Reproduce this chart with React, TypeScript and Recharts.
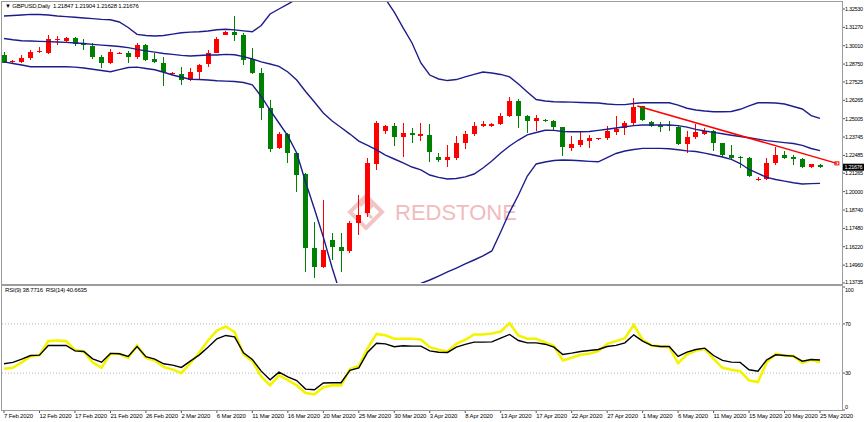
import React from "react";
import { ComposedChart, Bar, Line, XAxis, YAxis, ReferenceLine, ReferenceDot } from "recharts";

const FONT = '"Liberation Sans", Arial, sans-serif';
const BULL = "#ff0000";
const BEAR = "#008000";
const BAND = "#1d1d8c";
const FRAME = "#9c9c9c";

// GBPUSD daily bars, 7 Feb - 25 May 2020 (broker feed with Sunday bars)
const opens = [
  1.2937, 1.2889, 1.2889, 1.2915, 1.2957, 1.2953, 1.3042, 1.3033, 1.3052, 1.3022,
  1.3001, 1.2926, 1.2885, 1.2944, 1.2953, 1.2922, 1.3006, 1.2908, 1.2885, 1.2807,
  1.2807, 1.2766, 1.2823, 1.2874, 1.2953, 1.3077, 1.3095, 1.3075, 1.2908, 1.2816,
  1.2572, 1.2299, 1.2396, 1.2264, 1.2121, 1.1611, 1.1485, 1.1668, 1.1618, 1.1595,
  1.1787, 1.1852, 1.219, 1.2418, 1.245, 1.2373, 1.2404, 1.2384, 1.2389, 1.224,
  1.2217, 1.223, 1.2337, 1.2396, 1.2453, 1.245, 1.2462, 1.2519, 1.2624, 1.2519,
  1.2486, 1.2491, 1.2486, 1.2441, 1.2299, 1.232, 1.235, 1.2359, 1.2366, 1.2412,
  1.2434, 1.2473, 1.2585, 1.248, 1.2457, 1.2457, 1.2445, 1.2325, 1.2373, 1.2396,
  1.2418, 1.2332, 1.2253, 1.224, 1.2234, 1.2085, 1.2085, 1.2195, 1.2253, 1.2236,
  1.2222, 1.2167, 1.21847,
];
const highs = [
  1.2956, 1.29, 1.2937, 1.2972, 1.2992, 1.3075, 1.3068, 1.3059, 1.3059, 1.3045,
  1.3022, 1.2937, 1.2977, 1.2958, 1.2967, 1.3022, 1.3013, 1.2953, 1.2922, 1.2821,
  1.2857, 1.2846, 1.2876, 1.2972, 1.3059, 1.3102, 1.3205, 1.3086, 1.2984, 1.2846,
  1.2629, 1.2411, 1.2404, 1.2274, 1.2126, 1.1794, 1.1943, 1.1714, 1.1714, 1.1801,
  1.1977, 1.2229, 1.2487, 1.2457, 1.247, 1.2473, 1.2435, 1.2473, 1.2462, 1.2263,
  1.232, 1.2383, 1.2418, 1.248, 1.2487, 1.2473, 1.2537, 1.2648, 1.2634, 1.2526,
  1.2526, 1.25, 1.2491, 1.2445, 1.2383, 1.2411, 1.2389, 1.237, 1.245, 1.2519,
  1.2487, 1.264, 1.259, 1.2484, 1.248, 1.2484, 1.245, 1.2418, 1.2464, 1.2435,
  1.2423, 1.2336, 1.232, 1.2246, 1.224, 1.2098, 1.2229, 1.2304, 1.2281, 1.2253,
  1.2229, 1.2192, 1.21904,
];
const lows = [
  1.288, 1.2882, 1.2882, 1.29, 1.2954, 1.2944, 1.3006, 1.3029, 1.2999, 1.2972,
  1.2912, 1.2846, 1.2876, 1.2941, 1.2885, 1.2912, 1.2894, 1.288, 1.2725, 1.28,
  1.2732, 1.2762, 1.2766, 1.2857, 1.2949, 1.3073, 1.3036, 1.2869, 1.2807, 1.2492,
  1.2274, 1.2293, 1.2199, 1.2, 1.1451, 1.1406, 1.1474, 1.1531, 1.1451, 1.1581,
  1.1703, 1.1828, 1.2149, 1.2396, 1.2315, 1.224, 1.2332, 1.235, 1.2205, 1.2205,
  1.2167, 1.2217, 1.2291, 1.2383, 1.2445, 1.2441, 1.2455, 1.2514, 1.2439, 1.2404,
  1.2418, 1.2478, 1.2418, 1.2246, 1.2281, 1.2304, 1.2299, 1.2354, 1.2354, 1.2389,
  1.2389, 1.2457, 1.2486, 1.2445, 1.2411, 1.2418, 1.232, 1.2263, 1.2359, 1.2389,
  1.2281, 1.224, 1.2217, 1.216, 1.21, 1.2075, 1.208, 1.2185, 1.2222, 1.2185,
  1.2162, 1.2164, 1.21628,
];
const closes = [
  1.2884, 1.2893, 1.2919, 1.2956, 1.2962, 1.3045, 1.3049, 1.3052, 1.3011, 1.3004,
  1.2922, 1.288, 1.296, 1.2953, 1.2922, 1.3006, 1.2903, 1.2887, 1.2823, 1.2814,
  1.2766, 1.2823, 1.2869, 1.2953, 1.3045, 1.3095, 1.3077, 1.2903, 1.2816, 1.2572,
  1.2293, 1.2396, 1.2264, 1.2114, 1.1611, 1.1485, 1.16, 1.1618, 1.1595, 1.1787,
  1.184, 1.2194, 1.2473, 1.245, 1.2373, 1.2404, 1.2387, 1.2394, 1.2274, 1.2217,
  1.2236, 1.2337, 1.2396, 1.2451, 1.2464, 1.2462, 1.2519, 1.2624, 1.2519, 1.2486,
  1.2507, 1.2488, 1.2441, 1.2304, 1.2325, 1.2354, 1.2366, 1.2366, 1.2418, 1.243,
  1.2473, 1.258, 1.2491, 1.2453, 1.2445, 1.245, 1.2325, 1.2373, 1.2411, 1.2418,
  1.2332, 1.2253, 1.2234, 1.2234, 1.2104, 1.2089, 1.2199, 1.2253, 1.2234, 1.2222,
  1.2167, 1.2189, 1.21676,
];

// Bollinger bands
const bbUpper = [
  1.3205, 1.3208, 1.3212, 1.3216, 1.3215, 1.3212, 1.3205, 1.3201, 1.3196, 1.3191,
  1.3187, 1.3182, 1.3179, 1.3164, 1.3126, 1.3079, 1.3071, 1.3068, 1.3071, 1.3081,
  1.309, 1.3094, 1.3097, 1.3102, 1.3111, 1.3114, 1.311, 1.3103, 1.3097, 1.314,
  1.3219, 1.3253, 1.3286, 1.3322, 1.3363, 1.3404, 1.3438, 1.3466, 1.3479, 1.3479,
  1.3466, 1.3431, 1.3376, 1.3322, 1.3232, 1.3123, 1.302, 1.2883, 1.28, 1.2773,
  1.2762, 1.2769, 1.2787, 1.2804, 1.2821, 1.2814, 1.2804, 1.2787, 1.2738, 1.2684,
  1.2632, 1.2622, 1.2617, 1.2615, 1.2614, 1.2612, 1.261, 1.2608, 1.2601, 1.2597,
  1.2597, 1.2605, 1.261, 1.261, 1.261, 1.261, 1.2594, 1.2572, 1.256, 1.2553,
  1.2548, 1.2548, 1.255, 1.2565, 1.2588, 1.261, 1.261, 1.2608, 1.2601, 1.2584,
  1.2567, 1.2522, 1.2503,
];
const bbMiddle = [
  1.3051, 1.3042, 1.3035, 1.3033, 1.3031, 1.3029, 1.3027, 1.3024, 1.302, 1.3016,
  1.301, 1.3005, 1.3001, 1.2996, 1.2988, 1.2976, 1.2966, 1.2957, 1.2948, 1.2942,
  1.2935, 1.2931, 1.2934, 1.2937, 1.2937, 1.2942, 1.2939, 1.2926, 1.291, 1.289,
  1.2876, 1.2859, 1.2821, 1.2766, 1.2687, 1.2615, 1.254, 1.2485, 1.244, 1.2395,
  1.2347, 1.2317, 1.2286, 1.2251, 1.2224, 1.2197, 1.2169, 1.2149, 1.2114, 1.2098,
  1.2087, 1.209, 1.2101, 1.2121, 1.2162, 1.221, 1.2265, 1.2313, 1.2354, 1.2389,
  1.2406, 1.2421, 1.242, 1.2413, 1.2411, 1.2411, 1.2413, 1.242, 1.2428, 1.2437,
  1.2445, 1.2453, 1.2457, 1.2457, 1.2457, 1.2457, 1.2453, 1.2443, 1.2427, 1.2416,
  1.2407, 1.2397, 1.2387, 1.2378, 1.237, 1.236, 1.235, 1.2343, 1.2336, 1.233,
  1.2317, 1.2296, 1.2281,
];
const bbLower = [
  1.289, 1.2879, 1.2869, 1.2857, 1.2857, 1.2857, 1.2857, 1.2857, 1.2854, 1.2848,
  1.284, 1.2831, 1.2823, 1.2837, 1.2852, 1.2854, 1.2845, 1.2836, 1.2819, 1.28,
  1.2785, 1.2771, 1.2769, 1.2766, 1.2761, 1.2758, 1.2756, 1.2749, 1.2733, 1.2653,
  1.256, 1.2471, 1.2382, 1.2265, 1.2066, 1.1881, 1.1689, 1.1476, 1.1284, 1.1154,
  1.1085, 1.1065, 1.1106, 1.1174, 1.1257, 1.1312, 1.1346, 1.137, 1.1394, 1.1421,
  1.1449, 1.1476, 1.1504, 1.1531, 1.1559, 1.1593, 1.1723, 1.186, 1.1977, 1.2107,
  1.219, 1.2203, 1.2214, 1.2217, 1.2215, 1.2212, 1.2208, 1.2205, 1.2234, 1.2262,
  1.2279, 1.2289, 1.2297, 1.2297, 1.2297, 1.2294, 1.2287, 1.228, 1.2275, 1.2264,
  1.2251, 1.2238, 1.2221, 1.2193, 1.2152, 1.2125, 1.2098, 1.2083, 1.2072, 1.2061,
  1.2052, 1.2055, 1.2057,
];

const rsi9 = [
  33.5, 34.3, 38.7, 43.5, 44.6, 56.0, 56.5, 56.0, 48.7, 47.6,
  38.7, 34.3, 45.7, 45.7, 42.4, 52.5, 42.4, 40.3, 34.9, 33.0,
  30.0, 38.1, 46.5, 56.5, 64.6, 67.9, 63.3, 45.1, 39.7, 27.3,
  20.0, 28.1, 24.3, 20.0, 13.8, 12.7, 18.6, 20.0, 20.0, 33.2,
  35.7, 50.3, 61.9, 60.8, 57.9, 57.9, 57.9, 57.3, 51.1, 48.9,
  47.6, 53.8, 57.1, 61.4, 61.4, 62.2, 63.8, 70.6, 60.6, 57.9,
  57.9, 54.9, 52.2, 40.3, 42.4, 44.9, 45.7, 47.9, 53.8, 56.0,
  58.4, 69.2, 57.1, 52.5, 51.6, 51.1, 38.1, 45.1, 48.4, 49.7,
  41.6, 34.3, 32.7, 31.6, 24.0, 22.7, 38.9, 45.7, 44.3, 43.8,
  38.4, 40.8, 38.77,
];
const rsi14 = [
  37.6, 38.7, 41.4, 44.3, 44.6, 52.5, 52.5, 52.5, 48.1, 47.6,
  41.6, 38.9, 46.0, 45.7, 43.5, 51.6, 43.3, 41.4, 37.6, 36.5,
  34.6, 39.7, 44.6, 51.1, 57.9, 60.6, 59.5, 46.5, 41.1, 31.6,
  24.6, 30.8, 27.0, 24.0, 17.0, 16.5, 21.9, 22.2, 22.2, 32.2,
  34.3, 47.0, 54.3, 53.8, 51.4, 52.2, 51.9, 51.9, 48.1, 47.0,
  46.8, 51.1, 53.3, 55.2, 55.2, 55.4, 58.4, 61.4, 56.5, 54.6,
  54.6, 53.5, 51.1, 45.1, 46.2, 47.6, 48.4, 49.2, 51.6, 52.5,
  54.6, 61.1, 56.0, 52.5, 51.6, 51.6, 43.5, 47.0, 49.2, 50.3,
  44.3, 40.3, 38.9, 38.7, 32.7, 31.6, 40.8, 44.9, 44.3, 43.8,
  39.7, 41.1, 40.66,
];

const priceTicks = [
  1.3253, 1.3127, 1.3001, 1.2875, 1.27525, 1.26265, 1.25005, 1.23745,
  1.22485, 1.21265, 1.2, 1.1874, 1.1748, 1.1622, 1.1496, 1.13735,
];
const rsiTicks = [0, 30, 70, 100];
const rsiLevels = [30, 70];
const dateLabels = [
  "7 Feb 2020", "12 Feb 2020", "17 Feb 2020", "21 Feb 2020", "26 Feb 2020", "2 Mar 2020",
  "6 Mar 2020", "11 Mar 2020", "16 Mar 2020", "20 Mar 2020", "25 Mar 2020", "30 Mar 2020",
  "3 Apr 2020", "8 Apr 2020", "13 Apr 2020", "17 Apr 2020", "22 Apr 2020", "27 Apr 2020",
  "1 May 2020", "6 May 2020", "11 May 2020", "15 May 2020", "20 May 2020", "25 May 2020",
];
const dateTickBars = [0, 4, 8, 12, 16, 20, 24, 28, 32, 36, 40, 44, 48, 52, 56, 60, 64, 68, 72, 76, 80, 84, 88, 92];
const trendLine = [
  { bar: 71.4, price: 1.2588 },
  { bar: 93.9, price: 1.2194 },
];
const lastPrice = 1.21676;

const rows = opens.map((open, i) => ({
  bar: i,
  open,
  high: highs[i],
  low: lows[i],
  close: closes[i],
  upper: bbUpper[i],
  middle: bbMiddle[i],
  lower: bbLower[i],
  rsi9: rsi9[i],
  rsi14: rsi14[i],
}));

const X_DOMAIN: [number, number] = [-0.225, 94.59];

function Candle(props: any) {
  const { x, y, width, height } = props;
  const d = props.payload ?? props;
  if (x == null || y == null || !d) return <g />;
  const color = d.close >= d.open ? BULL : BEAR;
  const span = d.high - d.low;
  const py = (p: number) => (span > 0 ? y + ((d.high - p) / span) * height : y);
  const left = Math.round(x);
  const top = py(Math.max(d.open, d.close));
  const bodyH = Math.max(1, py(Math.min(d.open, d.close)) - top);
  return (
    <g shapeRendering="crispEdges">
      <line x1={left + 2.5} x2={left + 2.5} y1={y} y2={y + height} stroke={color} strokeWidth={1} />
      <rect x={left} y={top} width={5} height={bodyH} fill={color} />
    </g>
  );
}

function PriceTag(props: any) {
  const vb = props.viewBox;
  if (!vb) return null;
  const x = vb.x + vb.width;
  return (
    <g>
      <rect x={x} y={vb.y - 3.5} width={21} height={7} fill="#000" />
      <text x={x + 1.5} y={vb.y + 2} fontSize={5.5} fill="#fff" fontFamily={FONT} letterSpacing={-0.3}>
        {lastPrice.toFixed(5)}
      </text>
    </g>
  );
}

function PriceTick({ x, y, payload }: any) {
  const dy = payload.value === priceTicks[priceTicks.length - 1] ? -1 : 0;
  return (
    <text x={x} y={y + dy + 2} fontSize={5.5} fill="#000" fontFamily={FONT} letterSpacing={-0.3}>
      {payload.value.toFixed(5)}
    </text>
  );
}

function RsiTick({ x, y, payload }: any) {
  const dy = payload.value === 100 ? 3 : payload.value === 0 ? -3 : 0;
  return (
    <text x={x} y={y + dy + 2} fontSize={5.5} fill="#000" fontFamily={FONT} letterSpacing={-0.2}>
      {payload.value}
    </text>
  );
}

function DateTick({ x, y, payload }: any) {
  const idx = dateTickBars.indexOf(payload.value);
  return (
    <text x={x} y={y + 5} fontSize={6} fill="#000" fontFamily={FONT} letterSpacing={-0.15}>
      {dateLabels[idx]}
    </text>
  );
}

function EndMark({ cx, cy }: any) {
  return <rect x={cx - 2} y={cy - 1.5} width={4} height={3} fill="none" stroke={BULL} strokeWidth={1} />;
}

export default function App() {
  return (
    <div style={{ position: "absolute", left: 0, top: 0, width: 864, height: 422, background: "#fff", overflow: "hidden" }}>
      {/* watermark */}
      <svg style={{ position: "absolute", left: 0, top: 0 }} width={864} height={422}>
        <g fill="none" stroke="#f0bcbc" strokeWidth={4} opacity={0.85}>
          <path d="M366 196 L382 212 L366 228 L350 212 Z" />
          <path d="M360 206 L366 200 L372 206 L366 212 L372 218" strokeWidth={3} />
        </g>
        <text x={395} y={220} fontSize={22} fill="#f0bcbc" fontFamily={FONT}>
          REDSTONE
        </text>
      </svg>

      <div style={{ position: "absolute", left: 0, top: 0 }}>
        <ComposedChart width={864} height={290} data={rows} margin={{ top: 2, right: 0, bottom: 7, left: 2 }}>
          <XAxis dataKey="bar" type="number" domain={X_DOMAIN} allowDataOverflow hide />
          <YAxis
            orientation="right"
            width={21}
            domain={[1.13733, 1.3301]}
            allowDataOverflow
            ticks={priceTicks}
            interval={0}
            tick={<PriceTick />}
            tickSize={2}
            tickMargin={0}
            axisLine={false}
            tickLine={{ stroke: "#555" }}
          />
          <Bar dataKey={(d: any) => [d.low, d.high]} barSize={5} shape={Candle} isAnimationActive={false} />
          <Line dataKey="upper" type="linear" stroke={BAND} strokeWidth={1.4} dot={false} isAnimationActive={false} />
          <Line dataKey="middle" type="linear" stroke={BAND} strokeWidth={1.4} dot={false} isAnimationActive={false} />
          <Line dataKey="lower" type="linear" stroke={BAND} strokeWidth={1.4} dot={false} isAnimationActive={false} />
          <ReferenceLine
            segment={trendLine.map((p) => ({ x: p.bar, y: p.price }))}
            stroke={BULL}
            strokeWidth={1.5}
          />
          <ReferenceDot x={trendLine[1].bar} y={trendLine[1].price} r={2} shape={EndMark} />
          <ReferenceLine y={lastPrice} stroke="none" label={PriceTag} />
        </ComposedChart>
      </div>

      <div style={{ position: "absolute", left: 0, top: 284 }}>
        <ComposedChart width={864} height={138} data={rows} margin={{ top: 3, right: 0, bottom: 0, left: 2 }}>
          <XAxis
            dataKey="bar"
            type="number"
            domain={X_DOMAIN}
            allowDataOverflow
            ticks={dateTickBars}
            interval={0}
            tick={<DateTick />}
            tickSize={3}
            tickMargin={0}
            height={12}
            axisLine={false}
            tickLine={{ stroke: "#555" }}
          />
          <YAxis
            orientation="right"
            width={21}
            domain={[0, 100]}
            ticks={rsiTicks}
            interval={0}
            tick={<RsiTick />}
            tickSize={2}
            tickMargin={0}
            axisLine={false}
            tickLine={{ stroke: "#555" }}
          />
          {rsiLevels.map((lv) => (
            <ReferenceLine key={lv} y={lv} stroke="#b8b8b8" strokeDasharray="1 2" />
          ))}
          <Line dataKey="rsi9" type="linear" stroke="#f4f400" strokeWidth={2.6} dot={false} isAnimationActive={false} />
          <Line dataKey="rsi14" type="linear" stroke="#000" strokeWidth={1.4} dot={false} isAnimationActive={false} />
        </ComposedChart>
      </div>

      {/* panel frames */}
      <div style={{ position: "absolute", left: 1, top: 1, width: 842, height: 284, boxSizing: "border-box", border: `1px solid ${FRAME}`, pointerEvents: "none" }} />
      <div style={{ position: "absolute", left: 1, top: 285, width: 842, height: 126, boxSizing: "border-box", border: `1px solid ${FRAME}`, pointerEvents: "none" }} />

      <div style={{ position: "absolute", left: 5, top: 3, fontSize: 6, lineHeight: "7px", fontFamily: FONT, color: "#000", letterSpacing: -0.2, whiteSpace: "nowrap" }}>
        ▼ GBPUSD,Daily&nbsp; 1.21847 1.21904 1.21628 1.21676
      </div>
      <div style={{ position: "absolute", left: 5, top: 287, fontSize: 6, lineHeight: "7px", fontFamily: FONT, color: "#000", letterSpacing: -0.2, whiteSpace: "nowrap" }}>
        RSI(9) 38.7716&nbsp; RSI(14) 40.6635
      </div>
    </div>
  );
}
